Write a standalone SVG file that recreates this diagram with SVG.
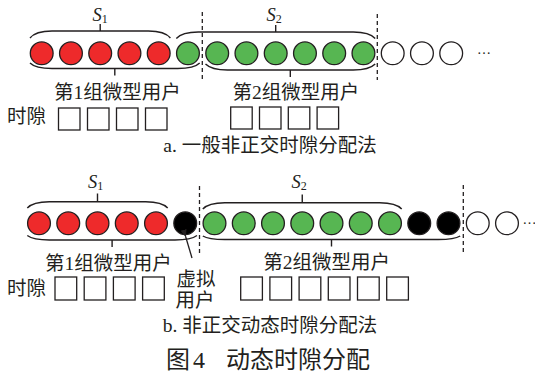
<svg xmlns="http://www.w3.org/2000/svg" width="535" height="380" viewBox="0 0 535 380">
<style>
text{font-family:"Liberation Serif","Noto Sans CJK SC",serif;fill:#231f20;font-size:19.5px}
.c{stroke:#231f20;stroke-width:1.3}
.r{fill:#ee2a2b}.g{fill:#57b652}.k{fill:#000}.w{fill:#fff}
.br{fill:none;stroke:#231f20;stroke-width:1.4}
.dl{stroke:#231f20;stroke-width:1.3;stroke-dasharray:4 3}
.sq{fill:#fff;stroke:#231f20;stroke-width:1.3}
.s{font-style:italic;font-size:18.5px}
.sub{font-style:normal;font-size:12px}
.m{text-anchor:middle}
</style>
<defs>
<marker id="ah" markerWidth="8" markerHeight="8" refX="1" refY="4" orient="auto" markerUnits="userSpaceOnUse">
<path d="M0,4 L8,1 L8,7 Z" fill="#231f20"/>
</marker>
</defs>

<!-- Part a -->
<g id="a-users">
<circle class="c r" cx="41.7" cy="53.3" r="11.4"/>
<circle class="c r" cx="70.95" cy="53.3" r="11.4"/>
<circle class="c r" cx="100.2" cy="53.3" r="11.4"/>
<circle class="c r" cx="129.45" cy="53.3" r="11.4"/>
<circle class="c r" cx="158.7" cy="53.3" r="11.4"/>
<circle class="c g" cx="187.95" cy="53.3" r="11.4"/>
<circle class="c g" cx="217.2" cy="53.3" r="11.4"/>
<circle class="c g" cx="246.45" cy="53.3" r="11.4"/>
<circle class="c g" cx="275.7" cy="53.3" r="11.4"/>
<circle class="c g" cx="304.95" cy="53.3" r="11.4"/>
<circle class="c g" cx="334.2" cy="53.3" r="11.4"/>
<circle class="c g" cx="363.45" cy="53.3" r="11.4"/>
<circle class="c w" cx="392.7" cy="53.3" r="11.4"/>
<circle class="c w" cx="421.95" cy="53.3" r="11.4"/>
<circle class="c w" cx="451.2" cy="53.3" r="11.4"/>
<text x="477" y="54" style="font-size:14px">…</text>
</g>
<g id="a-braces">
<path class="br" d="M30,38 C34,33 42,31 52,31 L148.4,31 C158.4,31 166.4,33 170.4,38 M100.2,31 V24"/>
<path class="br" d="M176.3,38.5 C180.3,34 188.3,32 198.3,32 L353.2,32 C363.2,32 371.2,34 375.2,38.5 M275.7,32 V25"/>
<path class="br" d="M30,63 C34,67 42,68.5 52,68.5 L177.7,68.5 C187.7,68.5 195.7,67 199.7,63 M114.8,68.5 V75.5"/>
<path class="br" d="M205.5,64 C209.5,68 217.5,70 227.5,70 L353.2,70 C363.2,70 371.2,68 375.2,64 M290.3,70 V77"/>
<text class="s" x="92.5" y="20.5">S<tspan class="sub" dy="2.5">1</tspan></text>
<text class="s" x="266.5" y="20.5">S<tspan class="sub" dy="2.5">2</tspan></text>
</g>
<g id="a-dividers">
<line class="dl" x1="202.3" y1="12" x2="202.3" y2="80"/>
<line class="dl" x1="377.3" y1="14" x2="377.3" y2="80"/>
</g>
<g id="a-group1-label"><text class="m" x="117.5" y="99">第1组微型用户</text></g>
<g id="a-group2-label"><text class="m" x="296" y="99">第2组微型用户</text></g>
<g id="a-slots">
<text x="7" y="123">时隙</text>
<rect class="sq" x="58.5" y="108" width="21.5" height="22"/>
<rect class="sq" x="87.5" y="108" width="21.5" height="22"/>
<rect class="sq" x="116.5" y="108" width="21.5" height="22"/>
<rect class="sq" x="145.5" y="108" width="21.5" height="22"/>
<rect class="sq" x="230.7" y="107" width="21.5" height="22"/>
<rect class="sq" x="259.5" y="107" width="21.5" height="22"/>
<rect class="sq" x="288.3" y="107" width="21.5" height="22"/>
<rect class="sq" x="317.1" y="107" width="21.5" height="22"/>
</g>
<g id="a-caption"><text class="m" x="270" y="151.5">a. 一般非正交时隙分配法</text></g>

<!-- Part b -->
<g id="b-users">
<circle class="c r" cx="39" cy="223.3" r="11.4"/>
<circle class="c r" cx="68.25" cy="223.3" r="11.4"/>
<circle class="c r" cx="97.5" cy="223.3" r="11.4"/>
<circle class="c r" cx="126.75" cy="223.3" r="11.4"/>
<circle class="c r" cx="156" cy="223.3" r="11.4"/>
<circle class="c k" cx="185.25" cy="223.3" r="11.4"/>
<circle class="c g" cx="214.5" cy="223.3" r="11.4"/>
<circle class="c g" cx="243.75" cy="223.3" r="11.4"/>
<circle class="c g" cx="273" cy="223.3" r="11.4"/>
<circle class="c g" cx="302.25" cy="223.3" r="11.4"/>
<circle class="c g" cx="331.5" cy="223.3" r="11.4"/>
<circle class="c g" cx="360.75" cy="223.3" r="11.4"/>
<circle class="c g" cx="390" cy="223.3" r="11.4"/>
<circle class="c k" cx="419.25" cy="223.3" r="11.4"/>
<circle class="c k" cx="448.5" cy="223.3" r="11.4"/>
<circle class="c w" cx="477.75" cy="223.3" r="11.4"/>
<circle class="c w" cx="507" cy="223.3" r="11.4"/>
<text x="522.5" y="223.5" style="font-size:14px">…</text>
</g>
<g id="b-braces">
<path class="br" d="M27.3,208 C31.3,203.5 39.3,201.7 49.3,201.7 L145.7,201.7 C155.7,201.7 163.7,203.5 167.7,208 M97.5,201.7 V193.5"/>
<path class="br" d="M202.8,209 C206.8,204.5 214.8,202.7 224.8,202.7 L379.7,202.7 C389.7,202.7 397.7,204.5 401.7,209 M302.25,202.7 V194.5"/>
<path class="br" d="M27.3,235.5 C31.3,238.5 39.3,240 49.3,240 L175,240 C185,240 193,238.5 197,235.5 M112.1,240 V247"/>
<path class="br" d="M202.8,236 C206.8,238.5 214.8,239.5 224.8,239.5 L438.2,239.5 C448.2,239.5 456.2,238.5 460.2,236 M331.5,239.5 V246.5"/>
<text class="s" x="88" y="187.5">S<tspan class="sub" dy="2.5">1</tspan></text>
<text class="s" x="291.5" y="187.5">S<tspan class="sub" dy="2.5">2</tspan></text>
</g>
<g id="b-dividers">
<line class="dl" x1="199.5" y1="186" x2="199.5" y2="256"/>
<line class="dl" x1="463.3" y1="185" x2="463.3" y2="252"/>
</g>
<g id="b-group1-label"><text class="m" x="108.3" y="269.5">第1组微型用户</text></g>
<g id="b-group2-label"><text class="m" x="326.7" y="269">第2组微型用户</text></g>
<g id="b-virtual-label">
<text class="m" x="196" y="285.5">虚拟</text>
<text class="m" x="195" y="306.5">用户</text>
</g>
<g id="connectors">
<line x1="192" y1="258" x2="185.6" y2="236.5" stroke="#231f20" stroke-width="1.3" marker-end="url(#ah)"/>
</g>
<g id="b-slots">
<text x="7" y="295">时隙</text>
<rect class="sq" x="55" y="277" width="21.7" height="23"/>
<rect class="sq" x="84.2" y="277" width="21.7" height="23"/>
<rect class="sq" x="113.4" y="277" width="21.7" height="23"/>
<rect class="sq" x="142.6" y="277" width="21.7" height="23"/>
<rect class="sq" x="240.7" y="277" width="21.7" height="23"/>
<rect class="sq" x="269.9" y="277" width="21.7" height="23"/>
<rect class="sq" x="299.1" y="277" width="21.7" height="23"/>
<rect class="sq" x="328.3" y="277" width="21.7" height="23"/>
<rect class="sq" x="357.5" y="277" width="21.7" height="23"/>
<rect class="sq" x="386.7" y="277" width="21.7" height="23"/>
</g>
<g id="b-caption"><text class="m" x="270" y="331.5">b. 非正交动态时隙分配法</text></g>
<g id="figure-caption"><text style="font-size:24px" y="368"><tspan x="166">图</tspan><tspan x="193">4</tspan><tspan x="226">动态时隙分配</tspan></text></g>
</svg>
